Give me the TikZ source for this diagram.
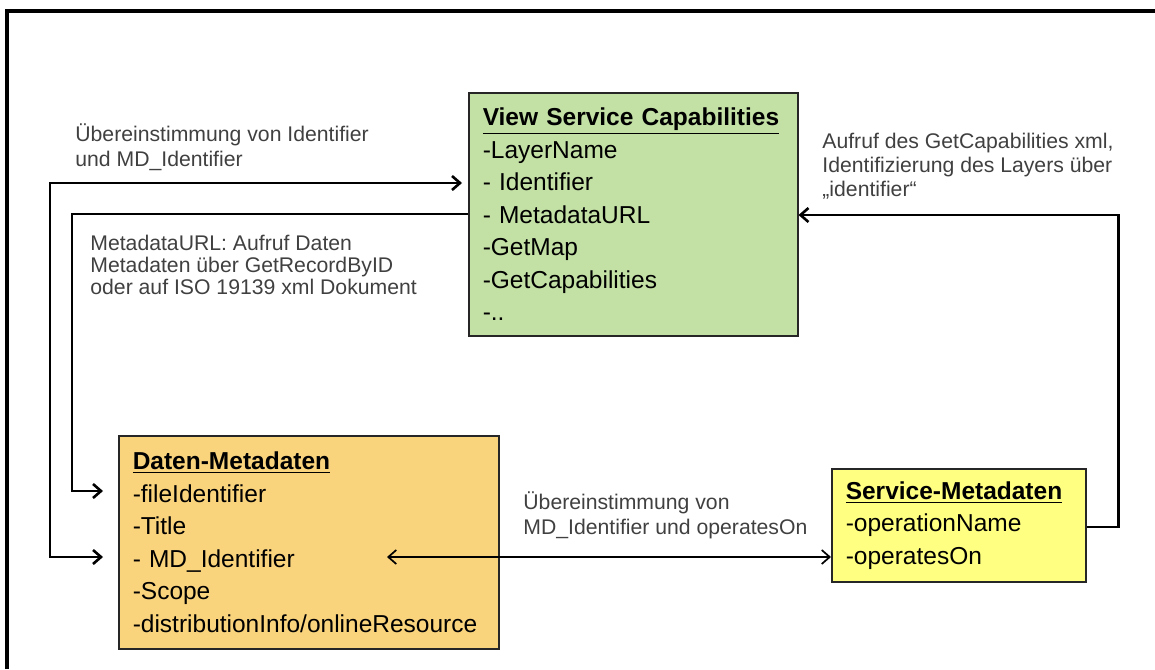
\documentclass[tikz,border=0pt]{standalone}
\usepackage{fontspec}
\setmainfont{Liberation Sans}
\usetikzlibrary{calc,arrows.meta}
\definecolor{capgreen}{RGB}{195,224,165}
\definecolor{datorange}{RGB}{250,212,125}
\definecolor{srvyellow}{RGB}{255,255,130}
\tikzset{
    box/.style={draw=black!85, line width=0.75pt, anchor=north west, align=left, inner xsep=7pt, inner ysep=0pt, font=\fontsize{12.25}{16.25}\selectfont},
    note/.style={anchor=north west, align=left, inner sep=0pt, text=black!75},
    link/.style={line width=1.3pt}
}
\begin{document}
\begin{tikzpicture}[x=0.5pt, y=-0.5pt, >={Straight Barb[length=4pt,width=7pt]}]
            \useasboundingbox (0,0) rectangle (1155,669);
            \draw [line width=1.6pt] (7,669) -- (7,11) -- (1155,11);
            \node (vsc) at (468,92) [box, fill=capgreen, text width=150.5pt, minimum height=121.5pt] {\underline{\textbf{View Service Capabilities}}\\-LayerName\\- Identifier\\- MetadataURL\\-GetMap\\-GetCapabilities\\-..};
            \node (dat) at (118,435) [box, fill=datorange, text width=176pt, minimum height=106.5pt] {\underline{\textbf{Daten-Metadaten}}\\-fileIdentifier\\-Title\\- MD\_Identifier\\-Scope\\-distributionInfo/onlineResource};
            \node (srv) at (831,468) [box, fill=srvyellow, text width=113pt, minimum height=56.5pt] {\underline{\textbf{Service-Metadaten}}\\-operationName\\-operatesOn};
            \coordinate (idin) at ($(vsc.north west)+(-6,91)$);
            \coordinate (fidin) at ($(dat.north west)+(-15,56)$);
            \coordinate (mdin) at ($(dat.north west)+(-15,122)$);
            \draw [link,<->] (mdin) -- ++(-53,0) |- (idin);
            \draw [link,->] ($(vsc.north west)+(0,122)$) -- ++(-396,0) |- (fidin);
            \draw [link,->] ($(srv.north east)+(0,59)$) -- ++(32,0) |- ($(vsc.north east)+(0,123)$);
            \draw [<->, line width=0.85pt] ($(dat.north west)+(269,122)$) -- ($(srv.north west)+(0,89)$);
            \node (idnote) at (75,123) [note, font=\fontsize{10.6}{12.5}\selectfont] {Übereinstimmung von Identifier\\und MD\_Identifier};
            \node (urlnote) at (90,235) [note, font=\fontsize{10.6}{11}\selectfont] {MetadataURL: Aufruf Daten\\Metadaten über GetRecordByID\\oder auf ISO 19139 xml Dokument};
            \node (capnote) at (822,133) [note, font=\fontsize{10.6}{12}\selectfont] {Aufruf des GetCapabilities xml,\\Identifizierung des Layers über\\„identifier“};
            \node (opnote) at (523,491) [note, font=\fontsize{10.6}{12.5}\selectfont] {Übereinstimmung von\\MD\_Identifier und operatesOn};
        \end{tikzpicture}
\end{document}
